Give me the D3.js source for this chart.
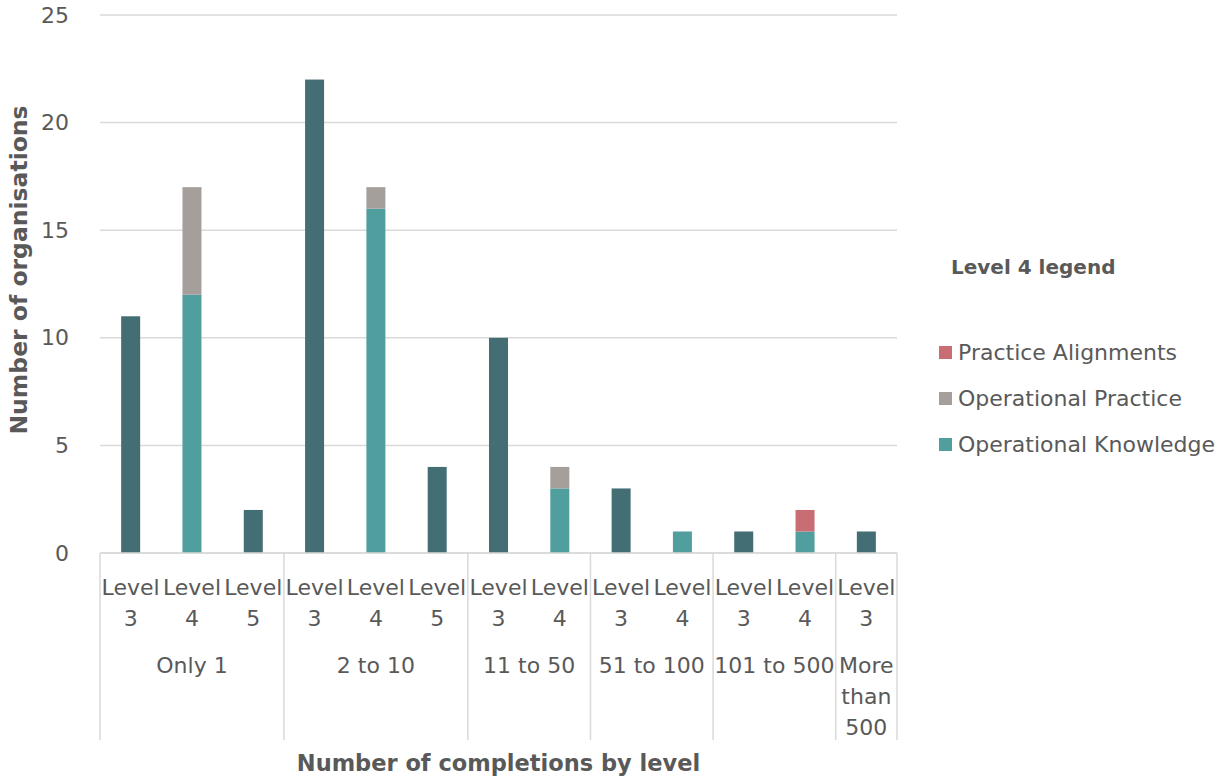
<!DOCTYPE html>
<html>
<head>
<meta charset="utf-8">
<script src="https://cdn.jsdelivr.net/npm/d3@7"></script>
<style>
  html, body { margin: 0; padding: 0; background: #fff; }
  svg { display: block; font-family: "DejaVu Sans", sans-serif; }
</style>
</head>
<body>
<svg id="chart" width="1223" height="778"></svg>
<script>
// Completion bands and the level shown in each column
const groups = ["Only 1", "2 to 10", "11 to 50", "51 to 100", "101 to 500", "More than 500"];
const levels = ["Level 3", "Level 4", "Level 5", "Level 3", "Level 4", "Level 5",
                "Level 3", "Level 4", "Level 3", "Level 4", "Level 3", "Level 4", "Level 3"];
const groupIndex = [0, 0, 0, 1, 1, 1, 2, 2, 3, 3, 4, 4, 5];

// Number of organisations per column
const levelTotal = [11, 0, 2, 22, 0, 4, 10, 0, 3, 0, 1, 0, 1];           // Levels 3 and 5
const operationalKnowledge = [0, 12, 0, 0, 16, 0, 0, 3, 0, 1, 0, 1, 0];
const operationalPractice  = [0, 5, 0, 0, 1, 0, 0, 1, 0, 0, 0, 0, 0];
const practiceAlignments   = [0, 0, 0, 0, 0, 0, 0, 0, 0, 0, 0, 1, 0];

const yTicks = [0, 5, 10, 15, 20, 25];
const legendItems = ["Practice Alignments", "Operational Practice", "Operational Knowledge"];

(function draw() {
  const seriesKeys = ["total", "ok", "op", "pa"];
  const colors = { total: "#436f74", ok: "#519e9f", op: "#a59f9c", pa: "#c96d75" };
  const legendColors = { "Practice Alignments": colors.pa, "Operational Practice": colors.op, "Operational Knowledge": colors.ok };

  const rows = levels.map((lv, i) => ({
    i, level: lv, group: groupIndex[i],
    total: levelTotal[i], ok: operationalKnowledge[i], op: operationalPractice[i], pa: practiceAlignments[i]
  }));

  const svg = d3.select("#chart");
  const textColor = "#595959";
  const lineColor = "#d9d9d9";
  const fontSize = 22;

  const plotLeft = 100, plotRight = 897, plotTop = 15, plotBottom = 553;

  const x = d3.scaleBand().domain(rows.map(d => d.i)).range([plotLeft, plotRight])
    .paddingInner(0.69).paddingOuter(0.345);
  const y = d3.scaleLinear().domain([0, 25]).range([plotBottom, plotTop]);
  const step = x.step();

  // Horizontal gridlines
  svg.append("g").selectAll("line").data(yTicks).join("line")
    .attr("x1", plotLeft).attr("x2", plotRight)
    .attr("y1", d => y(d)).attr("y2", d => y(d))
    .attr("stroke", lineColor).attr("stroke-width", 1.5);

  // Y axis labels
  const yAxis = svg.append("g").attr("transform", `translate(${plotLeft - 31},0)`)
    .call(d3.axisLeft(y).tickValues(yTicks).tickSize(0).tickPadding(0));
  yAxis.select(".domain").remove();
  yAxis.selectAll("text").attr("font-size", fontSize).attr("fill", textColor)
    .attr("font-family", "DejaVu Sans, sans-serif");

  // Stacked bars
  const stacked = d3.stack().keys(seriesKeys)(rows);
  svg.append("g").selectAll("g").data(stacked).join("g")
    .attr("fill", s => colors[s.key])
    .selectAll("rect").data(s => s.filter(d => d[1] - d[0] > 0)).join("rect")
    .attr("x", d => x(d.data.i))
    .attr("width", x.bandwidth())
    .attr("y", d => y(d[1]))
    .attr("height", d => y(d[0]) - y(d[1]));

  // Category axis: baseline and group separators
  svg.append("line").attr("x1", plotLeft).attr("x2", plotRight).attr("y1", plotBottom).attr("y2", plotBottom)
    .attr("stroke", lineColor).attr("stroke-width", 1.5);

  const groupBounds = groups.map((g, gi) => {
    const idx = rows.filter(r => r.group === gi).map(r => r.i);
    const half = step * x.paddingInner() / 2;
    return { label: g, x0: x(idx[0]) - half, x1: x(idx[idx.length - 1]) + x.bandwidth() + half };
  });
  const sepX = [groupBounds[0].x0, ...groupBounds.map(b => b.x1)];
  svg.append("g").selectAll("line").data(sepX).join("line")
    .attr("x1", d => d).attr("x2", d => d).attr("y1", plotBottom).attr("y2", 740)
    .attr("stroke", lineColor).attr("stroke-width", 1.5);

  // Word wrap helper: breaks text into lines that fit a width
  const measurer = svg.append("text").attr("font-size", fontSize).attr("visibility", "hidden");
  const measure = s => { measurer.text(s); return measurer.node().getComputedTextLength(); };
  function wrapLines(words, width) {
    const lines = [];
    let cur = "";
    words.forEach(w => {
      const t = cur ? cur + " " + w : w;
      if (cur && measure(t) > width) { lines.push(cur); cur = w; } else { cur = t; }
    });
    if (cur) lines.push(cur);
    return lines;
  }

  // Level labels
  rows.forEach(r => {
    const cx = x(r.i) + x.bandwidth() / 2;
    const lines = wrapLines(r.level.split(" "), step - 2);
    const t = svg.append("text").attr("text-anchor", "middle").attr("font-size", fontSize).attr("fill", textColor);
    lines.forEach((ln, k) => t.append("tspan").attr("x", cx).attr("y", 595 + k * 31).text(ln));
  });

  // Group labels
  groupBounds.forEach(b => {
    const cx = (b.x0 + b.x1) / 2;
    const lines = wrapLines(b.label.split(" "), b.x1 - b.x0 - 2);
    const t = svg.append("text").attr("text-anchor", "middle").attr("font-size", fontSize).attr("fill", textColor);
    lines.forEach((ln, k) => t.append("tspan").attr("x", cx).attr("y", 673 + k * 31).text(ln));
  });
  measurer.remove();

  // Axis titles
  svg.append("text").attr("x", (plotLeft + plotRight) / 2).attr("y", 771).attr("text-anchor", "middle")
    .attr("font-size", 22.5).attr("font-weight", "bold").attr("fill", textColor)
    .text("Number of completions by level");
  svg.append("text").attr("transform", `translate(27,270) rotate(-90)`).attr("text-anchor", "middle")
    .attr("font-size", 23.5).attr("font-weight", "bold").attr("fill", textColor)
    .text("Number of organisations");

  // Legend
  const legend = svg.append("g");
  legend.append("text").attr("x", 951).attr("y", 274).attr("font-size", 20).attr("font-weight", "bold")
    .attr("fill", textColor).text("Level 4 legend");
  const items = legend.selectAll("g.item").data(legendItems).join("g").attr("class", "item")
    .attr("transform", (d, k) => `translate(939,${346 + k * 46})`);
  items.append("rect").attr("width", 13).attr("height", 13).attr("fill", d => legendColors[d]);
  items.append("text").attr("x", 19).attr("y", 14).attr("font-size", fontSize).attr("fill", textColor).text(d => d);
})();
</script>
</body>
</html>
